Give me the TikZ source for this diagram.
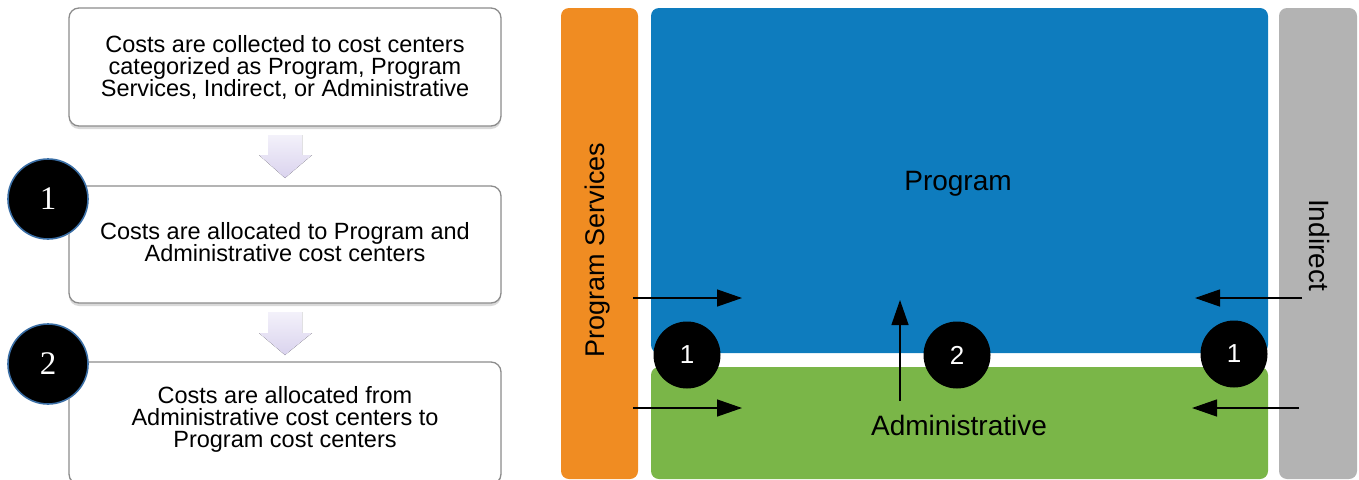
\documentclass[tikz,border=0pt]{standalone}
\usepackage{fontspec}
\setmainfont{Liberation Sans}
\newfontfamily\numfont{Liberation Serif}
\usetikzlibrary{arrows.meta,shadows}

\definecolor{pgOrange}{RGB}{240,140,34}
\definecolor{pgBlue}{RGB}{14,124,190}
\definecolor{pgGreen}{RGB}{122,182,72}
\definecolor{pgGray}{RGB}{179,179,179}
\definecolor{boxLine}{RGB}{140,140,140}
\definecolor{ringBlue}{RGB}{58,110,165}
\definecolor{lavTop}{RGB}{243,241,250}
\definecolor{lavBot}{RGB}{218,211,238}

\tikzset{
  stepbox/.style={draw=boxLine, line width=1.3pt, fill=white, rounded corners=10pt,
    minimum width=432pt, inner sep=0pt},
  steptext/.style={align=center, inner sep=0pt, font=\fontsize{23.5}{22}\selectfont},
  stepnum/.style={circle, fill=black, draw=ringBlue, line width=1.6pt,
    minimum size=80pt, inner sep=0pt, text=white,
    font=\numfont\fontsize{33}{33}\selectfont,
    drop shadow={shadow xshift=-3pt, shadow yshift=-3pt, fill=white, opacity=0.8}},
  region/.style={rounded corners=8pt, inner sep=0pt},
  regiontext/.style={inner sep=0pt, font=\fontsize{28}{28}\selectfont},
  marker/.style={circle, fill=black, minimum size=67pt, inner sep=0pt, text=white,
    font=\fontsize{26}{26}\selectfont},
  flow/.style={line width=1.3pt, -{Triangle[length=25pt,width=17pt]}},
  blockarrow/.style={top color=lavTop, bottom color=lavBot, draw=none}
}

\begin{document}
\begin{tikzpicture}[x=1pt,y=-1pt]
\useasboundingbox (0,0) rectangle (1359,479);

% --- process steps on the left ---
\node[stepbox, minimum height=118pt,
      drop shadow={shadow xshift=0pt, shadow yshift=-3pt, opacity=0.3}] (s0) at (285,67) {};
\node[steptext] (t0) at (285,67)
  {Costs are collected to cost centers\\categorized as Program, Program\\Services, Indirect, or Administrative};
\node[stepbox, minimum height=117pt,
      drop shadow={shadow xshift=0pt, shadow yshift=-3pt, opacity=0.3}] (s1) at (285,244.5) {};
\node[steptext] (t1) at (285,242)
  {Costs are allocated to Program and\\Administrative cost centers};
\node[stepbox, minimum height=122pt,
      drop shadow={shadow xshift=0pt, shadow yshift=-3pt, opacity=0.3}] (s2) at (285,423) {};
\node[steptext] (t2) at (285,419)
  {Costs are allocated from\\Administrative cost centers to\\Program cost centers};

% block arrows between steps
\fill[blockarrow] (268,135) -- (302,135) -- (302,155) -- (312,155) -- (285,178)
  -- (259,155) -- (268,155) -- cycle;
\fill[blockarrow] (268,312) -- (302,312) -- (302,333) -- (312,333) -- (285,355)
  -- (259,333) -- (268,333) -- cycle;

\node[stepnum] (n1) at (48,199) {1};
\node[stepnum] (n2) at (48,364) {2};

% --- cost center regions on the right ---
\node[region, fill=pgOrange, minimum width=77pt, minimum height=471pt] (svc) at (599.5,243.5) {};
\node[regiontext, rotate=90, font=\fontsize{27}{27}\selectfont] (svcl) at (598,250) {Program Services};
\node[region, fill=pgBlue, minimum width=617pt, minimum height=345pt] (prog) at (959.5,180.5) {};
\node[regiontext] (progl) at (958,184) {Program};
\node[region, fill=pgGreen, minimum width=617pt, minimum height=112pt] (adm) at (959.5,423) {};
\node[regiontext] (adml) at (959,425) {Administrative};
\node[region, fill=pgGray, minimum width=78pt, minimum height=471pt] (ind) at (1318,243.5) {};
\node[regiontext, rotate=-90] (indl) at (1319,245) {Indirect};

% allocation flows
\coordinate (svcA) at (633,298);  \coordinate (progA) at (742,298);
\coordinate (svcB) at (633,408);  \coordinate (admB) at (742,408);
\coordinate (indA) at (1302,298); \coordinate (progB) at (1195,298);
\coordinate (indB) at (1299,408); \coordinate (admC) at (1192,408);
\coordinate (admUp) at (900,401); \coordinate (progUp) at (900,300);
\draw[flow] (svcA) -- (progA);
\draw[flow] (svcB) -- (admB);
\draw[flow] (indA) -- (progB);
\draw[flow] (indB) -- (admC);
\draw[flow] (admUp) -- (progUp);

\node[marker] (m1) at (687,355) {1};
\node[marker] (m2) at (957,355) {2};
\node[marker] (m3) at (1234,354) {1};
\end{tikzpicture}
\end{document}
